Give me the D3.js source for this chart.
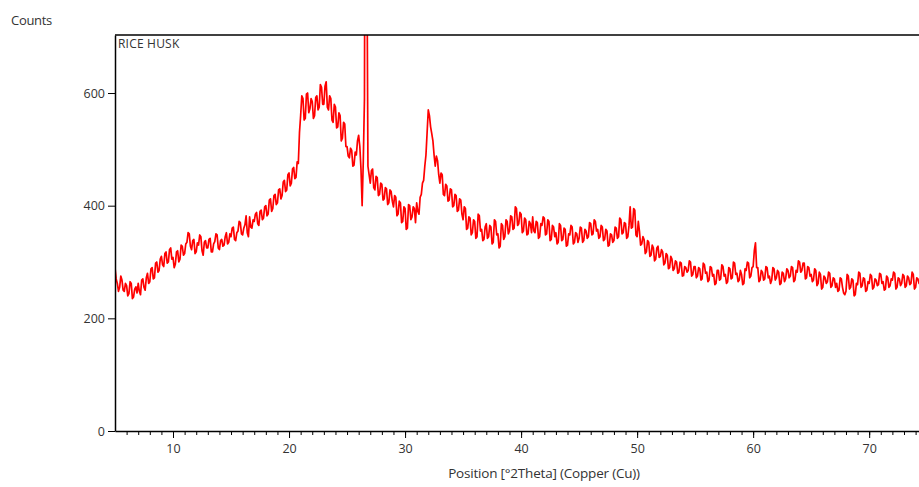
<!DOCTYPE html>
<html>
<head>
<meta charset="utf-8">
<script src="https://cdn.jsdelivr.net/npm/d3@7"></script>
<style>
  body { margin: 0; background: #fff; }
  text { font-family: "Open Sans", "Noto Sans", sans-serif; fill: #333; }
</style>
</head>
<body>
<svg width="919" height="487"></svg>
<script>
// scan settings
var startAngle = 5.0;
var stepSize = 0.1;

// counts, one per step (5.0 ... 75.0), 2 degrees per row
var counts = [
  290, 270, 262, 248, 255, 275, 268, 250, 248, 262, 258, 240, 244, 265, 262, 235, 238, 252, 256, 245,
  262, 248, 242, 268, 270, 255, 250, 272, 280, 262, 265, 288, 290, 270, 272, 298, 300, 282, 285, 305,
  310, 295, 292, 315, 318, 298, 300, 322, 325, 305, 308, 290, 296, 318, 320, 300, 305, 330, 328, 312,
  315, 332, 335, 352, 350, 328, 322, 338, 340, 315, 318, 334, 330, 348, 345, 320, 312, 335, 338, 325,
  325, 340, 342, 318, 318, 332, 336, 350, 348, 325, 322, 338, 340, 328, 330, 345, 352, 332, 335, 350,
  345, 360, 362, 340, 338, 352, 355, 372, 370, 350, 348, 360, 366, 382, 352, 345, 380, 362, 360, 375,
  372, 385, 388, 368, 365, 390, 392, 375, 378, 398, 400, 382, 385, 410, 412, 390, 395, 418, 420, 402,
  405, 428, 430, 412, 418, 442, 445, 425, 428, 455, 458, 435, 440, 465, 468, 448, 450, 478, 475, 530,
  560, 595, 590, 552, 555, 598, 600, 565, 572, 590, 585, 555, 560, 592, 595, 570, 575, 615, 610, 580,
  580, 612, 620, 575, 570, 595, 590, 552, 548, 580, 575, 538, 540, 565, 560, 515, 520, 548, 545, 505,
  505, 488, 485, 502, 498, 470, 472, 495, 490, 515, 525, 505, 465, 400, 480, 590, 1450, 900, 470, 455,
  440, 462, 465, 432, 428, 452, 450, 418, 420, 440, 438, 410, 412, 432, 430, 402, 405, 428, 425, 408,
  398, 418, 415, 382, 385, 408, 405, 370, 372, 398, 395, 358, 360, 402, 400, 375, 380, 398, 395, 370,
  405, 390, 385, 415, 420, 440, 445, 470, 490, 530, 570, 560, 540, 528, 515, 490, 470, 488, 480, 455,
  440, 458, 455, 420, 418, 438, 435, 408, 410, 430, 428, 398, 400, 420, 418, 390, 392, 412, 410, 385,
  375, 398, 395, 358, 360, 380, 378, 348, 352, 375, 372, 342, 345, 385, 382, 355, 358, 338, 340, 362,
  368, 342, 345, 365, 362, 332, 335, 375, 372, 348, 350, 325, 328, 368, 365, 340, 345, 375, 372, 350,
  355, 382, 380, 358, 360, 398, 395, 365, 368, 388, 385, 352, 355, 378, 375, 348, 350, 372, 368, 352,
  380, 355, 352, 372, 370, 342, 345, 368, 365, 380, 378, 348, 350, 375, 372, 338, 340, 365, 362, 345,
  352, 332, 335, 368, 365, 338, 340, 360, 358, 328, 330, 350, 348, 365, 362, 332, 335, 352, 350, 335,
  342, 362, 360, 335, 338, 358, 355, 342, 345, 370, 368, 348, 350, 375, 372, 355, 358, 342, 345, 365,
  362, 338, 340, 358, 355, 328, 330, 350, 348, 335, 338, 362, 360, 342, 345, 378, 375, 350, 352, 370,
  368, 342, 345, 365, 398, 360, 362, 395, 392, 348, 345, 372, 355, 330, 332, 345, 340, 315, 318, 338,
  335, 310, 312, 330, 325, 302, 305, 325, 328, 308, 310, 322, 318, 295, 298, 315, 312, 288, 290, 310,
  305, 285, 288, 302, 300, 280, 282, 300, 298, 275, 276, 292, 290, 282, 285, 302, 300, 275, 278, 292,
  292, 272, 275, 290, 288, 268, 270, 298, 295, 280, 282, 265, 268, 292, 290, 275, 278, 260, 262, 285,
  285, 268, 270, 295, 292, 275, 278, 262, 265, 290, 288, 270, 272, 300, 298, 278, 280, 265, 268, 285,
  278, 260, 262, 288, 285, 300, 298, 272, 275, 290, 292, 320, 334, 290, 290, 265, 268, 285, 282, 268,
  270, 292, 290, 272, 275, 262, 268, 290, 288, 268, 272, 285, 282, 260, 262, 282, 280, 265, 270, 288,
  285, 272, 275, 292, 290, 265, 268, 285, 282, 302, 300, 282, 285, 298, 298, 270, 272, 292, 290, 275,
  278, 265, 268, 288, 285, 258, 262, 282, 278, 252, 255, 275, 272, 262, 265, 282, 280, 255, 258, 272,
  270, 255, 262, 248, 250, 272, 270, 255, 245, 242, 248, 278, 275, 252, 255, 270, 268, 240, 242, 262,
  260, 282, 280, 255, 258, 272, 270, 248, 250, 265, 262, 278, 275, 252, 255, 270, 268, 258, 260, 280,
  278, 262, 265, 250, 252, 275, 272, 255, 258, 270, 268, 282, 280, 252, 255, 272, 270, 258, 262, 278,
  275, 255, 258, 275, 272, 260, 262, 282, 278, 252, 255, 272, 270, 262, 265, 285, 282, 255, 258, 278,
  268
];

var yTicks = [0, 200, 400, 600];
var xTicks = [10, 20, 30, 40, 50, 60, 70];
var sampleName = 'RICE HUSK';

var margin = {'top': 35, 'left': 115, 'bottom': 56, 'right': -14};
var width = 919 - margin.left - margin.right;
var height = 487 - margin.top - margin.bottom;

var svg = d3.select('svg');

var x = d3.scaleLinear().domain([5, 75.5]).range([0, width]);
var y = d3.scaleLinear().domain([0, 703]).range([height, 0]);

var g = svg.append('g')
  .attr('transform', `translate(${margin.left}, ${margin.top})`);

g.append('clipPath').attr('id', 'plot-clip')
  .append('rect').attr('width', width).attr('height', height);

var line = d3.line()
  .x((d, i) => x(startAngle + i * stepSize))
  .y(d => y(d));

g.append('path')
  .datum(counts)
  .attr('clip-path', 'url(#plot-clip)')
  .attr('fill', 'none')
  .attr('stroke', '#ff0000')
  .attr('stroke-width', 1.7)
  .attr('stroke-linejoin', 'round')
  .attr('d', line);

// frame top
g.append('line')
  .attr('x1', 0).attr('x2', width)
  .attr('y1', 0).attr('y2', 0)
  .attr('stroke', '#000').attr('stroke-width', 1.5);

// x axis, minor then major ticks
var xMinor = d3.range(6, 76);
g.append('g')
  .attr('transform', `translate(0, ${height})`)
  .call(d3.axisBottom(x).tickValues(xMinor).tickSize(4).tickFormat(''))
  .call(a => a.select('.domain').remove());

var xAxis = g.append('g')
  .attr('transform', `translate(0, ${height})`)
  .call(d3.axisBottom(x).tickValues(xTicks).tickSize(7).tickSizeOuter(0).tickPadding(6));
xAxis.select('.domain').attr('stroke-width', 1.5);
xAxis.selectAll('text').attr('font-size', 12.5).attr('fill', '#333');

var yAxis = g.append('g')
  .call(d3.axisLeft(y).tickValues(yTicks).tickSize(7).tickSizeOuter(0).tickPadding(3));
yAxis.select('.domain').attr('stroke-width', 1.5);
yAxis.selectAll('text').attr('font-size', 12.5).attr('fill', '#333');

svg.append('text')
  .attr('x', 11).attr('y', 25)
  .attr('font-size', 13)
  .attr('letter-spacing', -0.3)
  .text('Counts');

g.append('text')
  .attr('x', 3).attr('y', 13)
  .attr('font-size', 12)
  .attr('letter-spacing', 0.2)
  .text(sampleName);

svg.append('text')
  .attr('x', 544).attr('y', 478)
  .attr('text-anchor', 'middle')
  .attr('font-size', 13.5)
  .attr('letter-spacing', -0.2)
  .text('Position [°2Theta] (Copper (Cu))');
</script>
</body>
</html>
